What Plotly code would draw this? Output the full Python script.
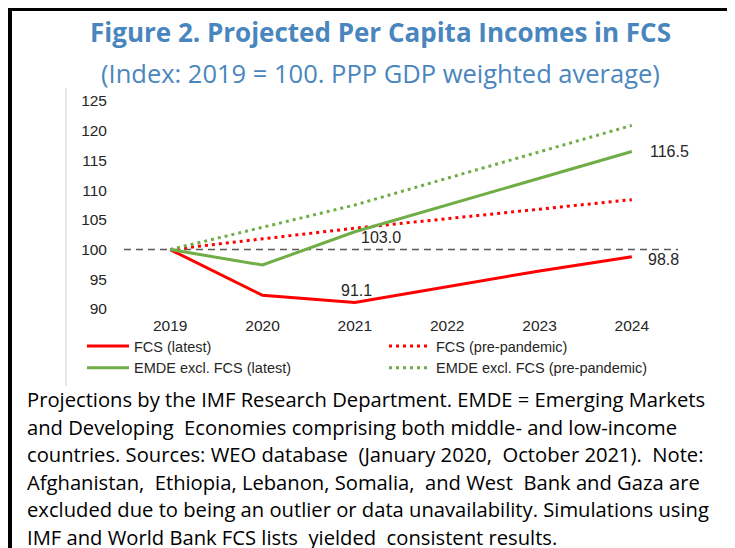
import plotly.graph_objects as go

years = ["2019", "2020", "2021", "2022", "2023", "2024"]
fcs_latest = [100.0, 92.3, 91.1, 93.8, 96.4, 98.8]
fcs_pre = [100.0, 101.8, 103.6, 105.2, 106.8, 108.4]
emde_latest = [100.0, 97.4, 103.0, 107.5, 112.0, 116.5]
emde_pre = [100.0, 103.7, 107.5, 112.0, 116.4, 120.9]
y_ticks = [90, 95, 100, 105, 110, 115, 120, 125]

title_text = "Figure 2. Projected Per Capita Incomes in FCS"
subtitle_text = "(Index: 2019 = 100. PPP GDP weighted average)"
footnote_lines = [
    "Projections by the IMF Research Department. EMDE = Emerging Markets",
    "and Developing  Economies comprising both middle- and low-income",
    "countries. Sources: WEO database  (January 2020,  October 2021).  Note:",
    "Afghanistan,  Ethiopia, Lebanon, Somalia,  and West  Bank and Gaza are",
    "excluded due to being an outlier or data unavailability. Simulations using",
    "IMF and World Bank FCS lists  yielded  consistent results.",
]

RED = "#FF0000"
GREEN = "#70AD47"
OFF = 8  # page body margin in the browser
W, H = 735 - OFF, 548 - OFF
L, R, T, B = 116, 57, 93, 239
PW, PH = W - L - R, H - T - B


def px(x):
    """reference-picture x pixel -> paper x"""
    return (x - OFF - L) / PW


def py(y):
    """reference-picture y pixel -> paper y"""
    return (H - B - (y - OFF)) / PH


fig = go.Figure()
fig.add_trace(go.Scatter(x=years, y=fcs_latest, name="FCS (latest)", mode="lines",
                         line=dict(color=RED, width=3)))
fig.add_trace(go.Scatter(x=years, y=fcs_pre, name="FCS (pre-pandemic)", mode="lines",
                         line=dict(color=RED, width=3, dash="3px,4px")))
fig.add_trace(go.Scatter(x=years, y=emde_latest, name="EMDE excl. FCS (latest)", mode="lines",
                         line=dict(color=GREEN, width=3)))
fig.add_trace(go.Scatter(x=years, y=emde_pre, name="EMDE excl. FCS (pre-pandemic)", mode="lines",
                         line=dict(color=GREEN, width=3, dash="3px,4px")))

shapes = [
    dict(type="line", xref="x domain", yref="y", x0=0, x1=1, y0=100, y1=100,
         line=dict(color="#595959", width=1.5, dash="7px,5px"), layer="below"),
    dict(type="rect", xref="paper", yref="paper", x0=px(8), x1=px(740), y0=py(8), y1=py(11),
         fillcolor="black", line=dict(width=0)),
    dict(type="rect", xref="paper", yref="paper", x0=px(8), x1=px(12), y0=py(8), y1=py(552),
         fillcolor="black", line=dict(width=0)),
    dict(type="line", xref="paper", yref="paper", x0=px(66), x1=px(66), y0=py(88), y1=py(386),
         line=dict(color="#D0D0D0", width=1)),
]

lab_font = dict(family="Liberation Sans, Arial", size=16, color="#262626")
i_last, i_mid = 5, 2
annotations = [
    dict(text=f"<b>{title_text}</b>", xref="paper", yref="paper", x=px(380), y=py(32),
         xanchor="center", yanchor="middle", showarrow=False,
         font=dict(family="Open Sans", size=26, color="#4A86BE")),
    dict(text=subtitle_text, xref="paper", yref="paper", x=px(380), y=py(73),
         xanchor="center", yanchor="middle", showarrow=False,
         font=dict(family="Open Sans", size=25.5, color="#4A86BE")),
    dict(text=f"{emde_latest[i_last]:.1f}", x=i_last, y=emde_latest[i_last], xref="x", yref="y",
         showarrow=False, xshift=38, font=lab_font),
    dict(text=f"{fcs_latest[i_last]:.1f}", x=i_last, y=fcs_latest[i_last], xref="x", yref="y",
         showarrow=False, xshift=32, yshift=-3, font=lab_font),
    dict(text=f"{emde_latest[i_mid]:.1f}", x=i_mid, y=emde_latest[i_mid], xref="x", yref="y",
         showarrow=False, xshift=26, yshift=-6, font=lab_font),
    dict(text=f"{fcs_latest[i_mid]:.1f}", x=i_mid, y=fcs_latest[i_mid], xref="x", yref="y",
         showarrow=False, xshift=2, yshift=12, font=lab_font),
]
for i, line in enumerate(footnote_lines):
    annotations.append(dict(text=line, xref="paper", yref="paper", x=px(25), y=py(399 + i * 27.5),
                            xanchor="left", yanchor="middle", showarrow=False,
                            font=dict(family="Open Sans", size=20.2, color="#000000")))

tick_font = dict(family="Liberation Sans, Arial", size=15.5, color="#262626")
fig.update_layout(
    width=W, height=H,
    margin=dict(l=L, r=R, t=T, b=B, pad=0),
    paper_bgcolor="white", plot_bgcolor="white",
    showlegend=True,
    legend=dict(orientation="h", x=px(82), y=py(330), xanchor="left", yanchor="top",
                entrywidth=245, entrywidthmode="pixels",
                font=dict(family="Liberation Sans, Arial", size=14.5, color="#262626"),
                bgcolor="rgba(0,0,0,0)", itemwidth=42, tracegroupgap=0),
    xaxis=dict(type="category", range=[-0.5, 5.5], showgrid=False, showline=False,
               zeroline=False, ticks="", ticklabelstandoff=5, tickfont=tick_font),
    yaxis=dict(range=[90, 125], tickvals=y_ticks, showgrid=False, showline=False,
               zeroline=False, ticks="", ticklabelstandoff=16, tickfont=tick_font),
    shapes=shapes, annotations=annotations,
)

fig.write_html("out.html")
